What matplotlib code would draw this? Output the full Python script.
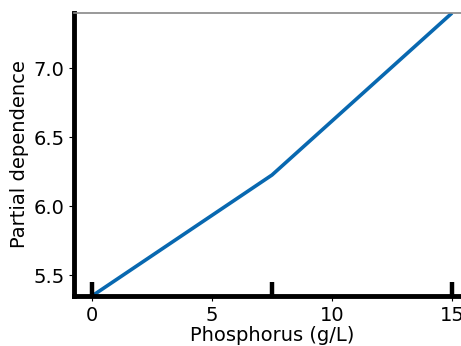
import matplotlib
matplotlib.use("Agg")
import matplotlib.pyplot as plt

x_vals = [0.0, 7.5, 15.0]
pd_vals = [5.348, 6.225, 7.399]
deciles = [0.0, 7.5, 15.0]
xticks = [0, 5, 10, 15]
yticks = [5.5, 6.0, 6.5, 7.0]

fig = plt.figure(figsize=(4.61, 3.46), dpi=100)
ax = fig.add_axes([74/461, 1-296/346, (470-74)/461, (296-13)/346])
ax.plot(x_vals, pd_vals, color='#0868b0', lw=2.6, solid_capstyle='butt')
ax.set_xlim(-0.75, 15.75)
ax.set_ylim(min(pd_vals), max(pd_vals))
ymin, ymax = ax.get_ylim()
ax.vlines(deciles, ymin, ymin + (ymax - ymin) * 0.05, color='black', lw=3.2)
ax.set_xticks(xticks)
ax.set_yticks(yticks)
ax.set_xticklabels([str(t) for t in xticks])
ax.set_yticklabels([f"{t:.1f}" for t in yticks])
ax.tick_params(labelsize=14)
ax.set_xlabel("Phosphorus (g/L)", fontsize=14, labelpad=1)
ax.set_ylabel("Partial dependence", fontsize=14, labelpad=3)
ax.spines['left'].set_linewidth(3.5)
ax.spines['bottom'].set_linewidth(3.5)
ax.spines['top'].set_color('#888888')
ax.spines['top'].set_linewidth(1.2)
ax.spines['right'].set_visible(False)
fig.savefig("out.png", dpi=100)
